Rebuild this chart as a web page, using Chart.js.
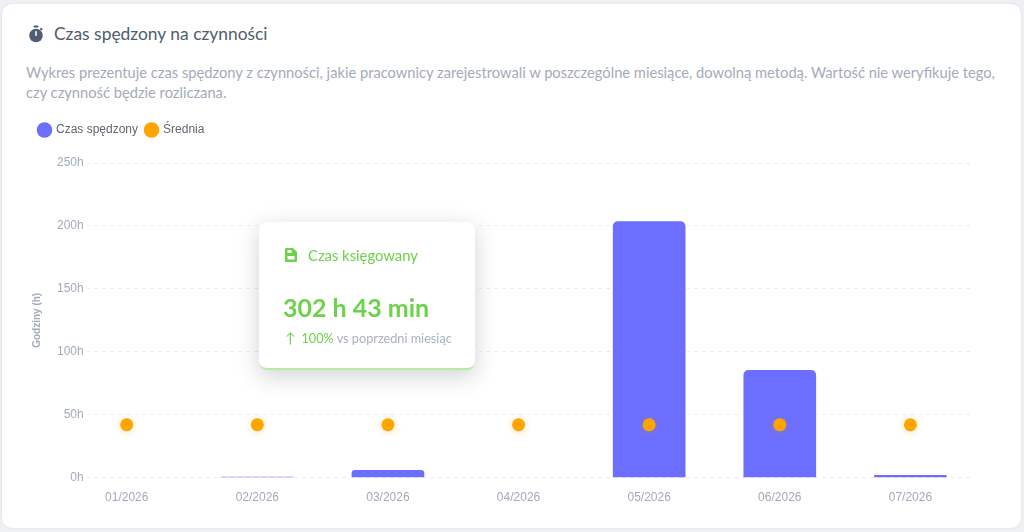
<!DOCTYPE html>
<html lang="pl">
<head>
<meta charset="utf-8">
<script src="https://cdn.jsdelivr.net/npm/chart.js@4/dist/chart.umd.min.js"></script>
<style>
  html, body { margin: 0; padding: 0; }
  body {
    width: 1024px; height: 532px; overflow: hidden;
    background: #eef0f3;
    font-family: Lato, "Open Sans", sans-serif;
  }
  .card {
    position: absolute; left: 2px; top: 4px; width: 1019px; height: 524px;
    background: #fff; border-radius: 10px;
    box-shadow: 0 0 3px rgba(0,0,0,0.08);
  }
  .head {
    position: absolute; left: 26px; top: 19px;
    display: flex; align-items: center;
    font-size: 17.4px; color: #4f5d70;
  }
  .head svg { margin-right: 10px; }
  .desc {
    position: absolute; left: 24px; top: 58px; width: 985px;
    font-size: 14.7px; line-height: 20px; color: #a4abb8;
  }
  .chart-box {
    position: absolute; left: 20px; top: 110px; width: 970px; height: 410px;
  }
  .booked {
    position: absolute; left: 259px; top: 222px; width: 216px; height: 146px;
    background: #fff; border-radius: 8px;
    border-bottom: 2px solid #b8eaa3;
    box-shadow: 0 6px 22px rgba(40,50,70,0.22);
  }
  .booked .t {
    position: absolute; left: 26px; top: 24px;
    display: flex; align-items: center;
    font-size: 14.8px; color: #6bd24a;
  }
  .booked .t svg { margin-right: 11px; }
  .booked .v {
    position: absolute; left: 24px; top: 70px;
    font-size: 25px; font-weight: bold; color: #6bd24a;
  }
  .booked .d {
    position: absolute; left: 26px; top: 107px;
    font-size: 12.7px; color: #aab1bc;
  }
  .booked .d b { font-weight: normal; color: #6bd24a; }
  .booked .d .arr { color: #6bd24a; font-size: 14px; margin-right: 6px; }
</style>
</head>
<body>
<div class="card">
  <div class="head">
    <svg width="16" height="18" viewBox="0 0 16 18">
      <rect x="5.5" y="0.5" width="5" height="2" rx="0.8" fill="#4f5d70"/>
      <rect x="12" y="3" width="2.5" height="2" rx="0.6" fill="#4f5d70" transform="rotate(40 13 4)"/>
      <circle cx="8" cy="10.5" r="6.8" fill="#4f5d70"/>
      <rect x="7.2" y="6" width="1.6" height="5" rx="0.7" fill="#fff"/>
    </svg>
    <span>Czas spędzony na czynności</span>
  </div>
  <div class="desc">Wykres prezentuje czas spędzony z czynności, jakie pracownicy zarejestrowali w poszczególne miesiące, dowolną metodą. Wartość nie weryfikuje tego, czy czynność będzie rozliczana.</div>
</div>

<div class="chart-box"><canvas id="myChart"></canvas></div>

<div class="booked">
  <div class="t">
    <svg width="12" height="14" viewBox="0 0 12 14">
      <path d="M1 0 H8 L12 4 V13 A1 1 0 0 1 11 14 H1 A1 1 0 0 1 0 13 V1 A1 1 0 0 1 1 0 Z" fill="#6bd24a"/>
      <rect x="2.5" y="2" width="4" height="3" fill="#fff"/>
      <rect x="2.5" y="8" width="7" height="3.5" fill="#fff"/>
    </svg>
    <span>Czas księgowany</span>
  </div>
  <div class="v">302 h 43 min</div>
  <div class="d"><span class="arr">&#8593;</span><b>100%</b> vs poprzedni miesiąc</div>
</div>

<script>
const months = ['01/2026', '02/2026', '03/2026', '04/2026', '05/2026', '06/2026', '07/2026'];
// null = no time recorded in that month
const spentHours = [null, 0.5, 5.8, null, 203.5, 85.2, 1.8];
const averageHours = [42, 42, 42, 42, 42, 42, 42];
const yTicks = [0, 50, 100, 150, 200, 250];

const tickColor = '#a3abbb';
const axisFont = '"Liberation Sans", Arial, sans-serif';

// soft glow under the average dots
const dotShadow = {
    id: 'dotShadow',
    beforeDatasetDraw(chart, args) {
        if (args.index !== 1) return;
        chart.ctx.save();
        chart.ctx.shadowColor = 'rgba(240,160,0,0.35)';
        chart.ctx.shadowBlur = 7;
        chart.ctx.shadowOffsetY = 1;
    },
    afterDatasetDraw(chart, args) {
        if (args.index !== 1) return;
        chart.ctx.restore();
    }
};

// more room between legend and plot
const legendGap = {
    id: 'legendGap',
    beforeInit(chart) {
        const fit = chart.legend.fit;
        chart.legend.fit = function () {
            fit.bind(chart.legend)();
            this.height += 17;
        };
    }
};

const ctx = document.getElementById('myChart').getContext('2d');
const myChart = new Chart(ctx, {
    type: 'bar',
    data: {
        datasets: [{
            label: 'Czas spędzony',
            data: months.map((m, i) => ({ x: i, y: spentHours[i] })),
            backgroundColor: '#6b6eff',
            borderRadius: { topLeft: 5, topRight: 5 },
            borderSkipped: 'bottom',
            barThickness: 72,
            order: 1,
        }, {
            type: 'line',
            label: 'Średnia',
            data: months.map((m, i) => ({ x: i, y: averageHours[i] })),
            showLine: false,
            pointRadius: 6.5,
            pointBackgroundColor: '#ffa500',
            pointBorderWidth: 0,
            backgroundColor: '#ffa500',
            borderColor: '#ffa500',
            order: 0,
        }]
    },
    options: {
        responsive: true,
        maintainAspectRatio: false,
        animation: false,
        layout: {
            padding: { left: 11, right: 19, top: 6, bottom: 2 }
        },
        plugins: {
            legend: {
                display: true,
                position: 'top',
                align: 'start',
                labels: {
                    usePointStyle: true,
                    pointStyle: 'circle',
                    boxWidth: 11,
                    boxHeight: 11,
                    padding: 8,
                    color: '#5f6670',
                    font: { family: axisFont, size: 12 },
                    sort: (a, b) => a.datasetIndex - b.datasetIndex,
                },
            },
            tooltip: { enabled: false },
        },
        scales: {
            x: {
                type: 'linear',
                min: -0.3065,
                max: 6.464,
                bounds: 'data',
                offset: false,
                grid: { display: false, drawTicks: false },
                border: { display: false },
                afterBuildTicks: (scale) => {
                    scale.ticks = months.map((m, i) => ({ value: i }));
                },
                ticks: {
                    autoSkip: false,
                    maxRotation: 0,
                    padding: 13,
                    color: tickColor,
                    font: { family: axisFont, size: 12 },
                    callback: (v) => months[v] ?? '',
                },
            },
            y: {
                min: 0,
                max: 250,
                afterBuildTicks: (scale) => {
                    scale.ticks = yTicks.map(v => ({ value: v }));
                },
                grid: {
                    color: '#e8ebf0',
                    drawTicks: false,
                },
                border: { display: false, dash: [3, 5] },
                ticks: {
                    padding: 3,
                    color: tickColor,
                    font: { family: axisFont, size: 12 },
                    callback: (v) => v + 'h',
                },
                title: {
                    display: true,
                    text: 'Godziny (h)',
                    color: tickColor,
                    font: { family: axisFont, size: 10, weight: 'bold' },
                    padding: { top: 0, bottom: 11 },
                },
            }
        }
    },
    plugins: [dotShadow, legendGap]
});
</script>
</body>
</html>
